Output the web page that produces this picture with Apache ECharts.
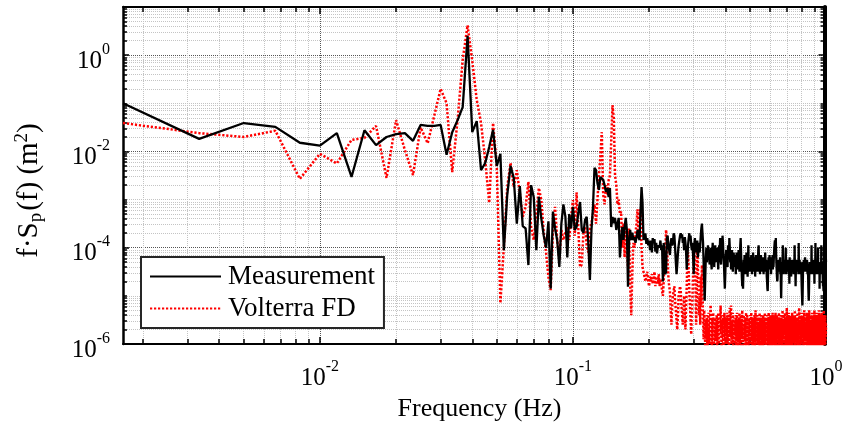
<!DOCTYPE html>
<html>
<head>
<meta charset="utf-8">
<script src="https://cdn.jsdelivr.net/npm/echarts@6/dist/echarts.min.js"></script>
<style>
  html, body { margin: 0; padding: 0; background: #fff; }
  #chart { width: 848px; height: 434px; }
</style>
</head>
<body>
<div id="chart"></div>
<script>
// Spectra are sampled on bins of 1/600 Hz (600 s record), bins 1..600.
const binWidthHz = 1 / 600;

// log10 of f·Sp(f) [m^2], measured spectrum, one value per bin
const measurementLog10 = [
  -1.00,-1.74,-1.41,-1.49,-1.82,-1.88,-1.62,-2.53,-1.56,-1.87,
  -1.70,-1.64,-1.62,-1.78,-1.45,-1.47,-1.47,-1.45,-2.07,-1.60,
  -1.35,-1.08, 0.40,-1.60,-1.37,-2.39,-2.24,-1.91,-1.55,-2.30,
  -2.05,-4.05,-2.90,-2.30,-2.55,-3.50,-2.72,-3.55,-3.60,-4.36,
  -2.70,-2.95,-4.05,-2.94,-3.40,-3.75,-4.00,-3.45,-4.85,-3.25,
  -3.60,-3.85,-4.40,-3.50,-3.10,-3.35,-4.20,-3.30,-3.60,-3.15,
  -3.63,-3.57,-3.28,-3.05,-3.63,-3.69,-3.42,-3.36,-3.90,-4.67,
  -3.63,-3.15,-2.34,-2.39,-2.66,-2.80,-2.53,-2.55,-2.59,-2.70,
  -2.84,-2.76,-2.95,-2.76,-3.57,-3.36,-3.49,-3.38,-3.63,-3.63,
  -3.38,-4.20,-3.84,-3.57,-3.84,-3.57,-3.38,-3.63,-4.81,-3.84,
  -3.63,-3.84,-3.69,-3.84,-3.78,-3.90,-3.78,-3.63,-3.78,-3.84,
  -3.22,-2.74,-3.07,-3.84,-3.78,-3.70,-3.92,-3.80,-3.95,-3.85,
  -4.05,-3.85,-4.10,-3.80,-3.90,-3.82,-4.08,-3.90,-4.12,-3.95,
  -3.95,-4.00,-3.85,-4.05,-3.95,-4.70,-3.90,-4.20,-4.55,-4.50,
  -3.80,-3.75,-3.95,-4.05,-4.15,-3.90,-3.80,-3.95,-3.90,-3.70,
  -3.75,-4.00,-4.30,-4.55,-4.35,-4.10,-3.95,-3.85,-3.75,-3.70,
  -3.80,-3.72,-3.90,-3.85,-4.05,-3.78,-3.90,-4.10,-4.45,-4.20,
  -3.95,-3.80,-3.70,-3.85,-3.75,-3.95,-4.05,-3.90,-4.15,-4.55,
  -3.95,-3.80,-4.10,-3.90,-4.00,-3.85,-4.20,-4.05,-3.90,-4.10,
  -3.95,-3.75,-3.60,-3.50,-3.46,-3.90,-4.30,-4.70,-5.10,-4.60,
  -4.20,-4.00,-4.30,-4.10,-3.95,-4.25,-4.05,-4.35,-4.15,-4.00,
  -4.30,-4.45,-4.10,-3.90,-4.20,-4.05,-4.40,-4.15,-3.95,-4.25,
  -4.10,-4.30,-4.00,-4.20,-4.45,-4.15,-3.95,-4.10,-3.80,-4.25,
  -4.35,-4.05,-4.20,-3.75,-3.90,-4.15,-4.30,-4.60,-4.85,-4.55,
  -4.20,-4.05,-4.30,-4.15,-4.40,-3.95,-4.10,-4.25,-3.80,-4.00,
  -4.30,-4.15,-4.45,-4.20,-4.05,-4.35,-4.50,-4.25,-4.10,-4.30,
  -4.15,-4.40,-4.20,-4.55,-4.30,-4.10,-4.35,-4.25,-4.45,-4.20,
  -4.05,-4.30,-4.50,-4.20,-3.95,-3.80,-4.10,-4.35,-4.60,-4.80,
  -4.70,-4.85,-4.50,-4.25,-4.40,-4.15,-4.30,-4.55,-4.20,-4.35,
  -4.10,-4.45,-4.25,-4.60,-4.30,-3.95,-4.40,-4.25,-4.50,-4.30,
  -4.20,-4.45,-4.30,-4.15,-4.40,-4.55,-4.25,-4.35,-4.10,-4.30,
  -4.50,-4.20,-4.40,-4.25,-4.60,-4.35,-4.15,-4.30,-4.45,-4.20,
  -4.35,-4.50,-4.25,-4.05,-3.95,-4.20,-4.40,-4.30,-4.55,-4.25,
  -4.35,-4.15,-4.45,-4.30,-4.20,-4.50,-4.35,-4.25,-4.40,-4.55,
  -4.30,-4.20,-4.45,-4.35,-4.10,-4.30,-4.50,-4.25,-4.40,-4.60,
  -4.70,-4.85,-4.90,-4.60,-4.35,-4.20,-4.40,-4.30,-4.15,-4.35,
  -4.45,-4.25,-4.35,-4.55,-4.30,-4.20,-4.40,-4.30,-4.15,-4.45,
  -4.30,-4.40,-4.25,-4.10,-4.00,-3.90,-3.85,-4.05,-4.20,-3.80,
  -4.10,-4.30,-4.45,-4.60,-4.70,-4.65,-4.40,-4.30,-4.45,-4.25,
  -4.35,-4.50,-4.30,-4.40,-4.20,-4.55,-4.35,-4.80,-5.05,-4.70,
  -4.40,-4.30,-4.50,-4.35,-3.95,-4.45,-4.30,-4.55,-4.40,-4.25,
  -4.35,-4.50,-4.30,-4.45,-4.20,-4.00,-4.55,-4.30,-4.40,-4.25,
  -4.45,-4.35,-4.50,-4.30,-4.40,-4.25,-4.55,-4.35,-4.45,-4.75,
  -4.20,-4.40,-4.50,-4.35,-4.25,-4.45,-4.60,-4.35,-4.40,-4.30,
  -4.50,-4.35,-4.25,-4.45,-4.30,-4.40,-4.55,-4.35,-4.45,-4.30,
  -3.95,-4.40,-4.35,-4.50,-4.80,-4.45,-4.25,-4.40,-4.55,-4.35,
  -4.45,-4.30,-4.40,-4.25,-4.50,-4.35,-4.45,-3.90,-4.40,-4.55,
  -4.35,-4.25,-4.45,-4.30,-4.40,-4.50,-4.35,-4.45,-4.30,-4.60,
  -4.80,-4.95,-5.10,-5.20,-5.00,-4.70,-4.45,-4.30,-4.40,-4.25,
  -4.50,-4.35,-4.45,-4.30,-4.40,-4.20,-4.35,-4.50,-4.30,-4.45,
  -4.35,-4.50,-4.30,-4.45,-4.25,-4.40,-4.55,-4.35,-4.45,-4.60,
  -4.85,-5.00,-5.10,-4.90,-4.60,-4.40,-4.30,-4.45,-4.35,-4.50,
  -4.30,-4.40,-4.55,-4.35,-4.45,-3.95,-4.40,-4.30,-4.50,-4.35,
  -4.45,-4.30,-4.40,-4.55,-4.35,-4.25,-4.45,-4.30,-4.40,-4.75,
  -4.35,-4.45,-4.30,-4.40,-3.90,-4.50,-4.35,-4.45,-4.30,-4.40,
  -4.55,-4.35,-4.45,-4.30,-4.40,-4.50,-4.35,-4.00,-4.45,-4.30,
  -4.40,-4.55,-4.35,-4.45,-4.30,-4.85,-4.50,-4.35,-4.45,-4.30,
  -4.40,-4.55,-4.35,-4.45,-3.95,-4.40,-4.50,-4.35,-4.45,-4.30,
  -4.40,-4.55,-4.70,-4.80,-4.65,-4.85,-4.90,-4.60,-4.45,-4.35,
  -4.40,-4.50,-4.35,-4.45,-4.30,-4.40,-4.25,-4.35,-4.20,-4.30
];

// log10 of f·Sp(f) [m^2], Volterra frequency-domain model, one value per bin
const volterraLog10 = [
  -1.41,-1.62,-1.70,-1.57,-2.57,-2.05,-2.25,-1.76,-1.72,-1.47,
  -2.55,-1.35,-1.97,-2.49,-1.50,-1.83,-1.25,-0.70,-1.00,-2.43,
  -1.35,-0.10, 0.62,-0.12,-0.93,-1.41,-2.18,-3.07,-1.41,-2.32,
  -5.15,-3.98,-2.74,-2.24,-2.74,-2.39,-2.87,-3.36,-3.15,-2.63,
  -3.57,-3.84,-3.28,-2.76,-3.01,-3.69,-4.11,-4.61,-4.88,-3.69,
  -3.15,-3.84,-4.25,-3.63,-3.84,-3.69,-3.57,-3.84,-3.36,-3.01,
  -3.75,-2.85,-3.60,-4.40,-4.35,-3.70,-3.57,-3.95,-4.10,-3.60,
  -3.50,-3.30,-3.10,-3.50,-3.00,-2.50,-2.10,-1.60,-2.90,-3.10,
  -2.70,-2.90,-2.60,-2.50,-1.80,-1.04,-1.30,-2.50,-2.70,-3.10,
  -3.00,-3.30,-3.25,-4.00,-3.50,-4.20,-3.60,-3.80,-4.40,-3.60,
  -4.80,-5.40,-4.50,-3.90,-4.00,-3.70,-3.50,-3.20,-3.80,-3.40,
  -3.20,-4.00,-4.40,-4.50,-4.60,-4.70,-4.60,-4.50,-4.70,-4.80,
  -4.60,-4.70,-4.55,-4.75,-4.65,-4.50,-4.80,-4.60,-4.70,-4.75,
  -4.55,-4.80,-4.65,-4.70,-4.90,-5.00,-4.70,-4.30,-4.10,-3.63,
  -3.90,-4.30,-4.60,-4.80,-4.90,-5.30,-5.60,-5.20,-5.00,-4.90,
  -4.80,-5.10,-5.30,-5.50,-5.70,-5.40,-5.00,-4.90,-4.80,-4.90,
  -5.20,-5.40,-5.60,-5.30,-5.00,-5.40,-5.70,-5.20,-4.80,-4.20,
  -4.10,-4.50,-4.90,-5.20,-5.50,-5.80,-5.40,-5.00,-4.60,-4.30,
  -4.10,-4.30,-4.80,-5.60,-5.10,-4.00,-4.40,-4.90,-5.40,-5.00,
  -5.60,-4.60,-5.20,-4.36,-4.80,-5.50,-5.90,-5.30,-5.70,-6.10,
  -5.50,-5.90,-5.40,-6.20,-5.60,-5.35,-6.00,-5.70,-5.45,-5.19,
  -5.60,-6.20,-5.50,-5.90,-5.35,-6.10,-5.70,-5.45,-6.00,-5.55,
  -5.90,-5.40,-6.20,-5.65,-5.35,-6.00,-5.50,-5.80,-5.45,-5.20,
  -5.70,-6.10,-5.50,-5.85,-5.40,-6.20,-5.60,-5.35,-5.95,-5.55,
  -6.10,-5.45,-5.80,-5.35,-6.00,-5.60,-5.40,-6.20,-5.55,-5.25,
  -5.85,-5.40,-5.20,-6.00,-5.55,-5.90,-5.35,-6.15,-5.65,-5.45,
  -6.00,-5.50,-5.80,-5.40,-6.20,-5.60,-5.35,-5.95,-5.50,-6.10,
  -5.45,-5.85,-5.35,-6.00,-5.60,-5.40,-6.20,-5.55,-5.90,-5.30,
  -5.80,-6.10,-5.50,-5.40,-5.95,-5.60,-6.25,-5.45,-5.85,-5.35,
  -6.05,-5.55,-5.40,-6.20,-5.65,-5.90,-5.45,-6.10,-5.50,-5.80,
  -5.40,-6.15,-5.60,-5.35,-5.95,-5.50,-6.20,-5.70,-5.45,-6.00,
  -5.55,-5.85,-5.40,-6.10,-5.60,-5.30,-5.95,-5.50,-6.20,-5.65,
  -5.40,-6.00,-5.55,-5.90,-5.45,-6.15,-5.60,-5.35,-6.05,-5.50,
  -5.85,-5.40,-6.20,-5.65,-5.45,-5.95,-5.55,-6.10,-5.40,-5.80,
  -5.50,-6.15,-5.60,-5.35,-6.00,-5.55,-5.90,-5.45,-6.20,-5.60,
  -5.40,-5.95,-5.50,-6.10,-5.65,-5.35,-5.85,-5.45,-6.20,-5.55,
  -5.90,-5.40,-6.05,-5.60,-5.45,-6.15,-5.50,-5.85,-5.35,-6.00,
  -5.60,-5.45,-6.20,-5.55,-5.90,-5.40,-6.10,-5.65,-5.35,-5.95,
  -5.50,-6.15,-5.60,-5.40,-5.85,-5.55,-6.20,-5.45,-5.95,-5.60,
  -5.35,-6.05,-5.50,-5.90,-5.45,-6.15,-5.60,-5.40,-6.00,-5.55,
  -5.45,-6.10,-5.60,-5.30,-5.90,-5.50,-6.20,-5.65,-5.40,-5.95,
  -5.55,-6.05,-5.35,-5.80,-5.50,-6.15,-5.60,-5.45,-6.00,-5.25,
  -5.70,-6.20,-5.50,-5.85,-5.40,-6.05,-5.60,-5.35,-5.95,-5.55,
  -6.15,-5.45,-5.80,-5.60,-6.25,-5.50,-5.40,-5.90,-5.55,-6.10,
  -5.35,-5.85,-5.50,-6.20,-5.65,-5.40,-5.95,-5.55,-6.05,-5.45,
  -5.80,-5.30,-6.10,-5.60,-5.45,-6.20,-5.50,-5.85,-5.40,-6.00,
  -5.55,-5.90,-5.35,-6.15,-5.60,-5.45,-6.05,-5.50,-5.80,-5.25,
  -5.95,-5.50,-6.20,-5.65,-5.40,-5.90,-5.55,-6.10,-5.45,-5.85,
  -5.35,-6.00,-5.60,-5.45,-6.20,-5.50,-5.85,-5.40,-6.05,-5.55,
  -5.90,-5.30,-6.15,-5.60,-5.45,-5.95,-5.50,-6.20,-5.65,-5.40,
  -6.00,-5.55,-5.85,-5.35,-6.10,-5.60,-5.45,-6.20,-5.50,-5.90,
  -5.40,-6.05,-5.55,-5.80,-5.30,-6.15,-5.60,-5.45,-5.95,-5.50,
  -6.20,-5.65,-5.40,-5.90,-5.55,-6.10,-5.45,-5.85,-5.35,-6.00,
  -5.60,-5.45,-6.20,-5.50,-5.85,-5.40,-6.05,-5.55,-5.90,-5.30,
  -6.15,-5.60,-5.45,-5.95,-5.50,-6.20,-5.65,-5.40,-6.00,-5.55,
  -5.85,-5.35,-6.10,-5.60,-5.45,-6.20,-5.50,-5.90,-5.40,-6.05,
  -5.55,-5.80,-5.30,-6.15,-5.60,-5.45,-5.95,-5.50,-6.20,-5.65,
  -5.40,-5.90,-5.55,-6.10,-5.45,-5.85,-5.35,-6.00,-5.60,-5.45,
  -6.20,-5.50,-5.85,-5.40,-6.05,-5.55,-5.90,-5.30,-6.15,-5.60,
  -5.45,-5.95,-5.50,-6.20,-5.65,-5.40,-6.00,-5.55,-5.85,-5.60
];

// Decade exponents that carry a labelled tick on each axis
const xLabelExponents = [-2, -1, 0];
const yLabelExponents = [-6, -4, -2, 0];
const seriesNames = ['Measurement', 'Volterra FD'];

const FONT = 'Liberation Serif';
const xMin = Math.log10(binWidthHz);
const xMax = 0;
const yMin = -6;
const yMax = 1;

// Minor tick positions (log10 of 2..9 × 10^n, plus unlabelled decades on y)
function minorLogTicks(nFrom, nTo, lo, hi) {
  const out = [];
  for (let n = nFrom; n <= nTo; n++) {
    for (let m = 2; m <= 9; m++) {
      const v = Math.log10(m) + n;
      if (v > lo && v < hi) out.push(v);
    }
  }
  return out;
}
const xMinorTicks = minorLogTicks(-3, -1, xMin, xMax);
const yMinorTicks = minorLogTicks(-6, 0, yMin, yMax).concat([-5, -3, -1]);

const toPoints = (arr) => arr.map((v, i) => [Math.log10((i + 1) * binWidthHz), v]);

const powerLabel = (v) => '{b|10}{s|' + String(Math.round(v)) + '}';
const labelRich = {
  b: { fontFamily: FONT, fontSize: 25, color: '#000', lineHeight: 25, padding: [12, 0, 0, 0] },
  s: { fontFamily: FONT, fontSize: 16, color: '#000', lineHeight: 16, padding: [5, 0, 16, 0] }
};

const majorGrid = { show: true, lineStyle: { color: '#555', width: 1, type: [1, 1] } };
const minorGrid = { show: true, lineStyle: { color: '#c4c4c4', width: 1, type: [1, 1] } };
const noGrid = { show: false };

function xAxisDef(position, ticks, tickLen, grid, withLine, withLabels) {
  return {
    type: 'value', position: position, min: xMin, max: xMax,
    axisLine: { show: withLine, onZero: false, lineStyle: { color: '#000', width: 2 } },
    axisTick: { show: true, inside: true, length: tickLen, customValues: ticks,
                lineStyle: { color: '#000', width: 1.5 } },
    axisLabel: withLabels
      ? { show: true, customValues: xLabelExponents, margin: 16, formatter: powerLabel, rich: labelRich }
      : { show: false },
    splitLine: grid
  };
}
function yAxisDef(position, ticks, tickLen, grid, withLine, withLabels, lineWidth, offset) {
  return {
    type: 'value', position: position, min: yMin, max: yMax, offset: offset || 0,
    axisLine: { show: withLine, onZero: false, lineStyle: { color: '#000', width: lineWidth || 2 } },
    axisTick: { show: true, inside: true, length: tickLen, customValues: ticks,
                lineStyle: { color: '#000', width: 1.5 } },
    axisLabel: withLabels
      ? { show: true, customValues: yLabelExponents, margin: 13, formatter: powerLabel, rich: labelRich }
      : { show: false },
    splitLine: grid
  };
}

const xAxes = [
  xAxisDef('bottom', xLabelExponents, 7, majorGrid, true, true),
  xAxisDef('bottom', xMinorTicks, 5, minorGrid, false, false),
  xAxisDef('top', xLabelExponents, 7, noGrid, true, false),
  xAxisDef('top', xMinorTicks, 5, noGrid, false, false)
];
xAxes[0].name = 'Frequency (Hz)';
xAxes[0].nameLocation = 'middle';
xAxes[0].nameGap = 52;
xAxes[0].nameTextStyle = { fontFamily: FONT, fontSize: 26, color: '#000', padding: [0, 0, 0, 10] };

const yAxes = [
  yAxisDef('left', yLabelExponents, 6, majorGrid, true, true, 2.5),
  yAxisDef('left', yMinorTicks, 4, minorGrid, false, false),
  yAxisDef('right', yLabelExponents, 6, noGrid, true, false, 4, -1.5),
  yAxisDef('right', yMinorTicks, 4, noGrid, false, false, 4, -1.5)
];
yAxes[0].name = '{t|f·S}{sub|p}{t|(f) (m}{sup|2}{t|)}';
yAxes[0].nameLocation = 'middle';
yAxes[0].nameGap = 79;
yAxes[0].nameTextStyle = {
  color: '#000',
  padding: [0, 30, 0, 0],
  rich: {
    t:   { fontFamily: FONT, fontSize: 29, color: '#000', lineHeight: 29, padding: [6, 0, 6, 0] },
    sub: { fontFamily: FONT, fontSize: 19, color: '#000', lineHeight: 19, padding: [18, 2, 4, 0] },
    sup: { fontFamily: FONT, fontSize: 19, color: '#000', lineHeight: 19, padding: [4, 0, 18, 0] }
  }
};

const chart = echarts.init(document.getElementById('chart'), null, { renderer: 'canvas' });
chart.setOption({
  animation: false,
  backgroundColor: '#fff',
  grid: { left: 123, top: 7, right: 22, bottom: 90, containLabel: false, outerBoundsMode: 'none' },
  xAxis: xAxes,
  yAxis: yAxes,
  legend: {
    data: seriesNames,
    orient: 'vertical',
    left: 141, top: 257,
    padding: [6, 9, 6, 8],
    itemGap: 5,
    itemWidth: 71,
    itemHeight: 27,
    backgroundColor: '#fff',
    borderColor: '#262626',
    borderWidth: 2,
    borderRadius: 0,
    itemStyle: { opacity: 0 },
    textStyle: { fontFamily: FONT, fontSize: 27, color: '#000', padding: [0, 0, 0, 2] }
  },
  series: [
    {
      name: seriesNames[0], type: 'line', xAxisIndex: 0, yAxisIndex: 0,
      data: toPoints(measurementLog10), symbol: 'none', showSymbol: false,
      lineStyle: { color: '#000', width: 2.3 }, itemStyle: { color: '#000' },
      z: 3, clip: true
    },
    {
      name: seriesNames[1], type: 'line', xAxisIndex: 0, yAxisIndex: 0,
      data: toPoints(volterraLog10), symbol: 'none', showSymbol: false,
      lineStyle: { color: '#ff0000', width: 2.5, type: [2.2, 1.8] }, itemStyle: { color: '#ff0000' },
      z: 2, clip: true
    }
  ]
});
</script>
</body>
</html>
